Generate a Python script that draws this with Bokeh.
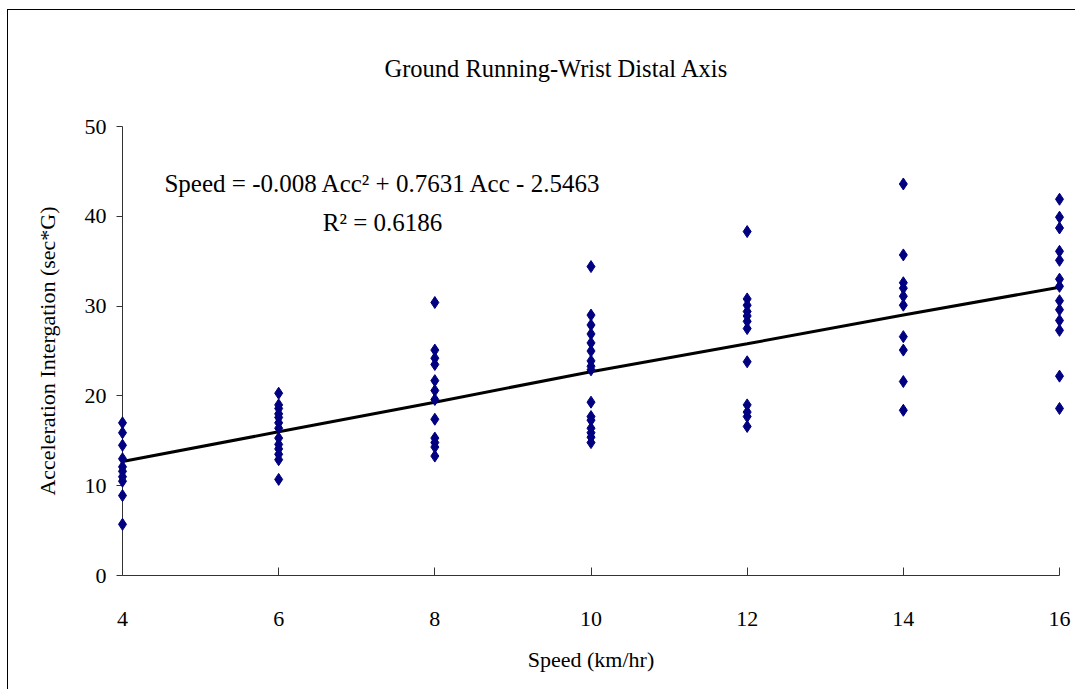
from bokeh.plotting import figure
from bokeh.models import Range1d, FixedTicker, Label
from bokeh.embed import file_html
from bokeh.resources import INLINE

# ---- data ----
speed_4 = [17.0, 15.9, 14.5, 13.0, 12.1, 11.6, 11.0, 10.5, 8.9, 5.7]
speed_6 = [20.3, 19.0, 18.6, 18.0, 17.6, 17.0, 16.4, 15.3, 14.6, 14.1, 13.5, 12.9, 10.7]
speed_8 = [30.4, 25.1, 24.2, 23.5, 21.7, 20.6, 19.6, 17.4, 15.3, 14.8, 14.3, 13.3]
speed_10 = [34.4, 29.0, 27.9, 26.9, 25.9, 25.0, 23.9, 23.3, 22.9, 19.3, 17.7, 17.3, 16.4, 15.9, 15.4, 14.8]
speed_12 = [38.3, 30.8, 30.1, 29.4, 28.9, 28.3, 27.5, 23.8, 19.0, 18.2, 17.7, 16.6]
speed_14 = [43.6, 35.7, 32.6, 32.0, 31.1, 30.1, 26.6, 25.1, 21.6, 18.4]
speed_16 = [41.9, 39.9, 38.7, 36.1, 35.1, 33.0, 32.2, 30.6, 29.6, 28.4, 27.3, 22.2, 18.6]

speeds = [4, 6, 8, 10, 12, 14, 16]
groups = [speed_4, speed_6, speed_8, speed_10, speed_12, speed_14, speed_16]

trend_x = [4, 6, 8, 10, 12, 14, 16]
trend_y = [12.7, 16.0, 19.3, 22.7, 25.8, 29.0, 32.1]

x_ticks = [4, 6, 8, 10, 12, 14, 16]
y_ticks = [0, 10, 20, 30, 40, 50]

title_text = "Ground Running-Wrist Distal Axis"
eq_text = "Speed = -0.008 Acc\u00b2 + 0.7631 Acc - 2.5463"
r2_text = "R\u00b2 = 0.6186"

FONT = "Liberation Serif"

pts_x = []
pts_y = []
for s, g in zip(speeds, groups):
    pts_x += [s] * len(g)
    pts_y += g

p = figure(width=1068, height=680, output_backend="svg", toolbar_location=None,
           x_range=Range1d(4, 16), y_range=Range1d(0, 50),
           min_border_left=114, min_border_right=17, min_border_top=116, min_border_bottom=115)

p.styles = {"border-left": "1px solid black", "border-top": "1px solid black",
            "margin-left": "7px", "margin-top": "9px"}

p.title.text = title_text
p.title.align = "left"
p.title.offset = 262
p.title.vertical_align = "top"
p.title.standoff = 86
p.title.text_font = FONT
p.title.text_font_size = "24.5px"
p.title.text_font_style = "normal"
p.title.text_color = "black"

p.outline_line_color = None
p.grid.visible = False
p.background_fill_color = "white"
p.border_fill_color = "white"

# axes
xa = p.xaxis[0]
xa.ticker = FixedTicker(ticks=x_ticks)
xa.major_tick_in = 8
xa.major_tick_out = 0
xa.minor_tick_line_color = None
xa.major_label_standoff = 36
xa.axis_label = "Speed (km/hr)"
xa.axis_label_standoff = 18
xa.axis_line_color = "#333333"
xa.major_tick_line_color = "#333333"

ya = p.yaxis[0]
ya.ticker = FixedTicker(ticks=y_ticks)
ya.major_tick_in = 0
ya.major_tick_out = 6
ya.minor_tick_line_color = None
ya.major_label_standoff = 10
ya.axis_label = "Acceleration Intergation (sec*G)"
ya.axis_label_standoff = 22
ya.axis_line_color = "#333333"
ya.major_tick_line_color = "#333333"

for ax in (xa, ya):
    ax.major_label_text_font = FONT
    ax.major_label_text_font_size = "22px"
    ax.major_label_text_color = "black"
    ax.axis_label_text_font = FONT
    ax.axis_label_text_font_size = "22px"
    ax.axis_label_text_font_style = "normal"
    ax.axis_label_text_color = "black"

line_r = p.line(trend_x, trend_y, line_color="black", line_width=3)
pts_r = p.scatter(pts_x, pts_y, marker="diamond", size=12, fill_color="#000080", line_color="#000080")
pts_r.level = "overlay"

p.add_layout(Label(x=7.34, y=43.6, text=eq_text, text_align="center", text_baseline="middle",
                   text_font=FONT, text_font_size="25px", text_color="black"))
p.add_layout(Label(x=7.33, y=39.3, text=r2_text, text_align="center", text_baseline="middle",
                   text_font=FONT, text_font_size="25px", text_color="black"))

open("out.html", "w").write(file_html(p, INLINE))
